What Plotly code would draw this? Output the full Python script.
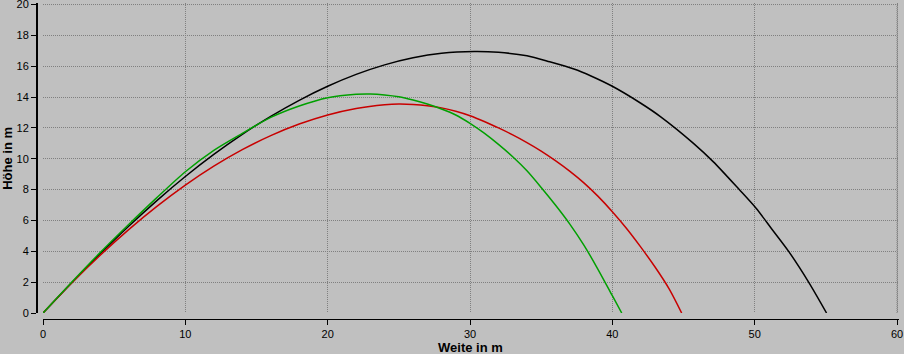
import plotly.graph_objects as go

# ---- data ----
black_x = [0, 2, 4, 6, 8, 10, 12, 14, 16, 18, 20, 22, 24, 26, 28, 30.3, 32, 34, 35.6, 37.3, 38.5, 40, 42, 43.4, 45.7, 47.1, 48.9, 50.1, 51.2, 52.4, 53.8, 55.05]
black_y = [0, 1.95, 3.82, 5.61, 7.29, 8.85, 10.28, 11.58, 12.75, 13.79, 14.70, 15.47, 16.09, 16.55, 16.84, 16.95, 16.90, 16.68, 16.29, 15.82, 15.37, 14.70, 13.60, 12.72, 11.00, 9.80, 8.02, 6.79, 5.45, 3.98, 1.99, 0]

red_x = [0, 2, 4, 6, 8, 10, 12, 14, 16, 18, 20, 22, 24, 25, 26, 27, 28, 29, 30, 31, 32, 33, 34, 35, 36, 37, 38, 39, 40, 41, 42, 43, 44, 44.87]
red_y = [0, 1.93, 3.73, 5.39, 6.91, 8.29, 9.52, 10.59, 11.50, 12.25, 12.84, 13.26, 13.50, 13.55, 13.52, 13.44, 13.30, 13.08, 12.79, 12.42, 12.00, 11.55, 11.05, 10.50, 9.88, 9.20, 8.44, 7.56, 6.57, 5.48, 4.27, 2.98, 1.55, 0]

green_x = [0, 2, 4, 6, 8, 10, 12, 14, 16, 18, 20, 22, 23, 24, 25, 26, 27, 28, 29, 30, 31, 32, 33, 34, 35, 36, 37, 38, 39, 40, 40.66]
green_y = [0, 1.98, 3.90, 5.72, 7.48, 9.16, 10.55, 11.65, 12.68, 13.42, 13.96, 14.18, 14.20, 14.14, 14.02, 13.81, 13.55, 13.23, 12.84, 12.30, 11.66, 10.93, 10.13, 9.22, 8.14, 7.00, 5.78, 4.40, 2.82, 1.12, 0]

x_ticks = [0, 10, 20, 30, 40, 50, 60]
y_ticks = [0, 2, 4, 6, 8, 10, 12, 14, 16, 18, 20]
x_title = "Weite in m"
y_title = "Höhe in m"

BG = "#C0C0C0"
GRID = "#808080"
FONT = "Liberation Sans"

fig = go.Figure()
for xs, ys, col in [(black_x, black_y, "#000000"), (red_x, red_y, "#C80000"), (green_x, green_y, "#00A000")]:
    fig.add_trace(go.Scatter(x=xs, y=ys, mode="lines",
                             line=dict(color=col, width=1.5, shape="spline", smoothing=0.8),
                             showlegend=False, hoverinfo="skip"))

W, H = 904, 354
ml, mr, mt, mb = 37, 5, 3, 35
pw = W - ml - mr
ph = H - mt - mb
gap = 6

# dotted border at the far ends of the grid (top and right)
shapes = [
    dict(type="line", xref="x", yref="y", x0=x_ticks[0], x1=x_ticks[-1], y0=y_ticks[-1], y1=y_ticks[-1],
         line=dict(color=GRID, width=1, dash="1px,1px"), layer="below"),
    dict(type="line", xref="x", yref="y", x0=x_ticks[-1], x1=x_ticks[-1], y0=y_ticks[0], y1=y_ticks[-1],
         line=dict(color=GRID, width=1, dash="1px,1px"), layer="below"),
]

fig.update_layout(
    width=W, height=H,
    margin=dict(l=ml, r=mr, t=mt, b=mb, pad=0, autoexpand=False),
    paper_bgcolor=BG, plot_bgcolor=BG,
    font=dict(family=FONT, size=11, color="#000000"),
    shapes=shapes,
    xaxis=dict(
        range=[0, 60.14], domain=[gap / pw, 1], anchor="free", position=0,
        tickvals=x_ticks, ticktext=[str(v) for v in x_ticks],
        showgrid=True, gridcolor=GRID, gridwidth=1, griddash="1px,1px",
        zeroline=False, showline=True, linecolor="#000000", linewidth=1,
        ticks="outside", ticklen=5, tickcolor="#000000", tickwidth=1,
        tickfont=dict(family=FONT, size=11, color="#000000"),
        ticklabeloverflow="allow", automargin=False,
        fixedrange=True,
    ),
    yaxis=dict(
        range=[0, 20.1], domain=[gap / ph, 1], anchor="free", position=0,
        tickvals=y_ticks, ticktext=[str(v) for v in y_ticks],
        showgrid=True, gridcolor=GRID, gridwidth=1, griddash="1px,1px",
        zeroline=False, showline=True, linecolor="#000000", linewidth=2,
        ticks="outside", ticklen=5, tickcolor="#000000", tickwidth=1,
        tickfont=dict(family=FONT, size=11, color="#000000"),
        ticklabeloverflow="allow", automargin=False,
        fixedrange=True,
    ),
    annotations=[
        dict(text=f"<b>{x_title}</b>", x=30, xref="x", y=0, yref="paper", yanchor="middle",
             yshift=-28, showarrow=False, font=dict(family=FONT, size=13, color="#000000")),
        dict(text=f"<b>{y_title}</b>", x=0, xref="paper", xshift=-29, y=10, yref="y",
             xanchor="center", textangle=-90, showarrow=False,
             font=dict(family=FONT, size=13, color="#000000")),
    ],
)

fig.write_html("out.html", config={"displayModeBar": False})
